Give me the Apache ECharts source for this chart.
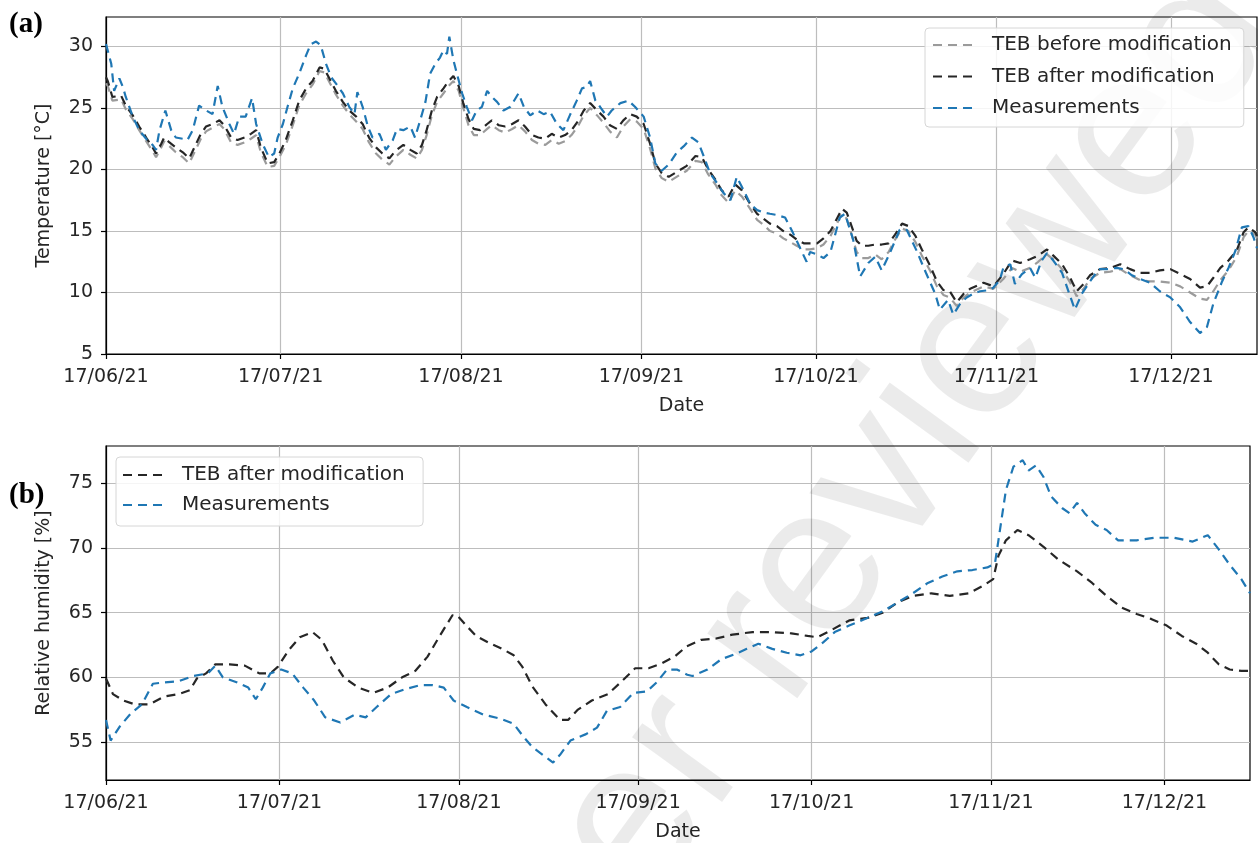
<!DOCTYPE html>
<html>
<head>
<meta charset="utf-8">
<script src="https://cdn.jsdelivr.net/npm/echarts@6/dist/echarts.min.js"></script>
<style>html,body{margin:0;padding:0;background:#fff}#c{width:1258px;height:843px}</style>
</head>
<body>
<div id="c"></div>
<script>
// x values are days since 17/06/21
const monthTickDays = [0, 30, 61, 92, 122, 153, 183];
const tickLabels = ['17/06/21', '17/07/21', '17/08/21', '17/09/21', '17/10/21', '17/11/21', '17/12/21'];
const tempTicks = [5, 10, 15, 20, 25, 30];
const rhTicks = [55, 60, 65, 70, 75];
const seriesNames = ['TEB before modification', 'TEB after modification', 'Measurements'];

// (a) Temperature — measurements
const tempMeasDays = [0,0.9,1.4,2.3,2.9,3.4,4.6,5.7,6.9,8.0,8.6,9.2,10.2,11.2,12.0,13.2,14.0,14.9,16.0,17.2,18.3,19.2,20.0,21.2,22.0,22.9,24.0,25.1,25.8,26.9,28.0,28.9,29.5,30.4,31.2,32.1,33.2,34.4,35.2,36.1,36.9,37.8,38.7,39.5,40.7,41.8,42.7,43.2,44.1,45.0,45.8,47.0,48.1,49.3,50.0,51.1,52.3,53.1,54.0,54.9,55.7,56.6,57.4,58.0,58.6,59.0,59.7,60.3,61.2,62.0,62.9,63.7,64.6,65.5,66.3,67.2,68.3,69.5,70.9,71.8,72.9,74.1,75.2,76.3,77.5,78.6,79.8,80.9,81.8,82.6,83.2,84.1,84.9,86.1,86.9,88.4,89.8,90.9,92.4,93.5,94.4,95.5,96.7,98.1,99.3,100.7,101.8,102.7,103.8,105.0,106.1,107.3,108.4,109.6,110.7,111.9,113.0,114.1,115.3,116.7,117.9,119.0,120.4,121.0,122.2,123.3,124.5,125.3,126.1,127.0,128.4,129.6,131.0,132.2,133.3,134.7,136.4,137.6,139.3,141.0,142.5,143.3,144.7,145.6,146.8,147.9,149.0,150.2,151.9,152.5,153.6,154.2,155.4,156.2,157.4,158.8,159.7,160.8,161.7,162.8,164.3,165.4,166.5,167.7,169.1,170.6,172.0,173.7,174.9,176.3,177.7,179.4,181.1,182.9,184.6,186.3,188.0,189.2,190.3,191.8,192.9,194.1,195.2,196.3,197.2,197.8];
const tempMeas = [30.2,28.6,26.4,27.4,26.7,25.9,24.3,23.2,22.5,22.0,21.6,23.2,24.8,23.2,22.6,22.5,22.4,23.2,25.2,24.8,24.5,26.8,25.1,23.7,22.9,24.3,24.3,25.8,23.7,22.1,21.0,21.3,22.6,23.7,25.1,26.6,27.8,29.3,30.2,30.4,30.1,28.6,27.5,27.0,26.2,25.1,24.5,26.3,25.1,23.5,22.6,22.9,21.6,22.4,23.3,23.2,23.5,22.6,24.0,25.5,27.8,28.6,29.1,29.7,29.4,30.8,28.9,27.8,26.2,25.1,24.0,24.8,25.1,26.4,25.9,25.5,24.8,25.1,26.2,25.1,24.4,24.8,24.5,24.7,23.7,23.2,24.5,25.6,26.6,26.7,27.2,25.6,25.1,24.3,24.8,25.4,25.6,25.1,24.3,22.6,20.5,19.9,20.4,21.4,21.9,22.6,22.2,21.1,19.7,18.9,18.1,17.5,19.4,18.3,17.2,16.7,16.5,16.4,16.3,16.1,15.0,13.9,12.5,13.3,13.1,12.8,13.3,14.7,16.1,16.4,14.3,11.3,12.4,12.9,11.8,13.2,15.1,15.1,13.4,11.5,9.9,8.6,9.4,8.2,9.1,9.6,9.9,10.1,10.2,10.4,11.0,12.0,12.3,10.7,11.5,12.0,11.2,12.6,13.2,12.6,11.6,10.1,8.6,9.9,10.9,11.9,11.9,12.0,11.9,11.4,11.1,10.8,10.1,9.6,8.8,7.6,6.7,7.2,9.1,10.9,12.0,13.4,15.3,15.4,14.5,13.6];

// (a) Temperature — TEB model (after / before modification share the same days)
const tempModelDays = [0,0.3,1.1,2.6,3.4,4.6,5.7,6.9,8.0,8.6,9.5,10.0,10.9,12.0,13.2,14.3,15.2,16.3,17.2,18.3,19.5,20.3,21.5,22.6,23.8,24.9,25.8,26.6,27.8,28.9,29.8,30.9,32.1,33.2,34.4,35.5,36.7,37.5,38.4,39.5,40.7,41.8,43.0,44.1,45.2,46.4,47.5,48.7,49.7,51.1,52.3,53.4,54.3,55.1,56.0,56.9,58.0,58.9,59.7,60.6,61.4,62.3,63.2,64.3,65.5,66.3,67.5,68.6,69.8,70.9,72.0,73.2,74.3,75.5,76.6,77.8,78.9,80.0,81.2,82.1,83.2,84.4,85.5,86.6,87.8,88.9,90.1,91.2,92.4,93.5,94.4,95.5,96.7,98.4,99.8,101.3,102.4,103.5,104.7,105.8,107.0,108.1,109.3,110.7,111.9,113.0,114.1,115.3,116.4,117.6,118.7,119.9,121.0,122.2,123.3,124.5,125.6,126.5,127.3,128.2,129.0,129.9,131.0,132.2,133.3,134.5,135.6,136.8,137.9,139.1,140.2,141.6,142.8,143.9,145.0,146.2,147.4,148.5,150.8,152.5,154.2,155.7,157.1,158.8,160.2,161.7,162.8,164.3,165.7,166.8,168.0,169.1,170.8,172.6,174.3,176.0,177.7,179.4,181.1,182.9,184.6,186.3,188.0,189.2,190.3,191.5,192.9,194.3,195.5,196.3,197.5,197.8];
const tempAfter = [27.5,27.2,25.9,26.0,25.2,24.4,23.5,22.6,21.8,21.3,22.1,22.6,22.2,21.8,21.4,20.9,21.8,22.9,23.5,23.7,24.0,23.6,22.6,22.4,22.6,22.9,23.2,21.8,20.5,20.6,21.3,22.4,24.0,25.6,26.6,27.2,28.3,28.2,27.4,26.4,25.5,24.8,24.3,23.7,22.6,21.8,21.3,20.9,21.5,22.0,21.6,21.3,22.0,23.2,24.8,25.9,26.6,27.2,27.6,26.8,25.4,24.1,23.3,23.2,23.7,24.0,23.6,23.5,23.7,24.0,23.5,22.8,22.6,22.5,22.9,22.6,22.8,23.2,24.0,24.8,25.4,24.8,24.3,23.6,23.3,24.0,24.5,24.3,23.7,22.1,20.5,19.7,19.4,19.9,20.3,21.1,21.0,20.0,19.2,18.3,17.8,18.8,18.3,17.2,16.4,16.0,15.6,15.4,15.0,14.7,14.3,14.0,14.0,14.0,14.4,15.0,16.0,16.8,16.5,15.3,14.2,13.8,13.8,13.9,13.9,14.0,14.7,15.6,15.4,14.6,13.5,12.2,10.9,10.2,10.1,9.2,9.9,10.3,10.8,10.5,11.5,12.6,12.4,12.7,13.0,13.5,13.0,12.3,11.2,10.1,10.7,11.4,11.9,12.0,12.3,11.9,11.6,11.6,11.8,11.9,11.5,11.1,10.4,10.5,11.2,12.0,12.6,13.4,14.9,15.3,14.9,14.6];
const tempBefore = [27.0,26.8,25.6,25.7,24.9,24.1,23.2,22.3,21.5,21.0,21.8,22.3,21.9,21.4,21.0,20.5,21.4,22.5,23.1,23.4,23.7,23.3,22.2,22.0,22.2,22.5,22.8,21.4,20.2,20.3,21.0,22.0,23.6,25.2,26.2,26.9,28.0,27.9,27.1,26.1,25.2,24.5,23.9,23.3,22.2,21.3,20.8,20.4,21.0,21.6,21.2,20.9,21.6,22.8,24.4,25.5,26.2,26.8,27.2,26.4,25.0,23.6,22.8,22.8,23.3,23.6,23.2,23.0,23.3,23.6,23.1,22.4,22.1,22.0,22.4,22.1,22.3,22.8,23.6,24.4,25.0,24.4,23.8,23.1,22.6,23.5,24.1,23.9,23.3,21.7,20.1,19.3,19.0,19.5,19.9,20.7,20.6,19.6,18.8,17.9,17.3,18.3,17.8,16.8,15.9,15.5,15.0,14.8,14.4,14.1,13.8,13.5,13.5,13.6,13.9,14.6,15.6,16.4,16.0,14.6,13.3,12.8,12.8,13.1,12.7,13.3,14.3,15.2,15.0,14.1,13.0,11.8,10.5,9.8,9.6,8.9,9.6,10.0,10.5,10.3,11.1,12.0,11.7,12.0,12.5,13.1,12.7,11.9,10.8,9.7,10.3,11.1,11.6,11.7,11.9,11.4,11.0,10.9,10.9,10.8,10.5,10.0,9.5,9.4,10.1,11.0,11.8,12.9,14.5,15.0,14.7,14.4];

// (b) Relative humidity
const rhAfterDays = [0,1.2,3.0,5.0,7.5,10.0,12.6,14.5,15.7,17.3,18.9,21.4,24.0,26.5,28.4,29.7,31.6,33.5,35.7,37.3,39.2,41.1,43.6,46.2,48.7,51.2,53.5,55.6,57.7,59.9,60.7,62.3,64.0,66.5,68.5,70.5,72.0,73.7,76.0,78.5,79.9,81.6,84.0,86.8,89.2,91.5,93.8,96.2,98.3,100.4,102.9,105.5,108.3,111.8,115.0,118.5,121.3,123.0,125.2,128.5,131.7,134.3,136.9,139.5,142.7,145.9,149.2,151.7,153.4,154.3,155.6,157.6,159.5,162.1,164.7,167.9,170.5,173.0,175.6,178.2,180.8,183.4,186.0,188.5,190.5,192.4,194.3,196.3,197.8];
const rhAfter = [59.9,58.7,58.2,57.9,57.9,58.5,58.7,59.0,59.9,60.3,61.0,61.0,60.9,60.3,60.3,60.8,62.1,63.1,63.5,62.9,61.3,60.0,59.2,58.8,59.2,60.0,60.5,61.6,63.2,64.8,64.8,64.0,63.2,62.6,62.2,61.7,60.8,59.3,57.9,56.7,56.7,57.5,58.2,58.7,59.7,60.7,60.7,61.1,61.6,62.4,62.9,63.0,63.3,63.5,63.5,63.4,63.2,63.1,63.6,64.4,64.6,65.0,65.8,66.3,66.5,66.3,66.5,67.1,67.6,69.4,70.6,71.4,71.0,70.1,69.1,68.2,67.3,66.3,65.4,64.9,64.5,64.0,63.2,62.6,61.9,61.0,60.6,60.5,60.5];
const rhMeasDays = [0,0.8,2.4,4.3,6.2,8.1,10.0,12.6,15.1,17.6,18.9,20.2,22.7,24.6,25.9,27.1,28.4,30.3,32.2,34.1,36.0,37.9,40.5,43.0,44.9,46.8,49.3,51.9,54.4,56.5,58.4,60.1,62.4,65.3,68.2,70.5,72.0,73.7,75.5,77.3,78.5,80.3,83.0,84.9,86.6,88.9,91.2,93.5,95.2,97.0,98.7,100.5,101.4,104.0,106.4,108.8,110.8,112.8,115.2,117.7,120.1,122.0,124.0,126.0,128.5,131.7,134.3,136.9,139.5,142.1,144.6,147.2,149.8,152.4,153.7,154.3,155.6,156.9,158.5,159.5,160.8,162.1,163.4,165.3,166.6,167.9,169.2,171.1,173.0,175.0,178.2,181.4,184.7,187.9,190.5,192.4,194.3,196.3,197.8];
const rhMeas = [56.7,55.1,56.2,57.2,57.9,59.5,59.6,59.7,60.1,60.3,60.9,60.0,59.6,59.2,58.3,59.2,60.3,60.6,60.3,59.2,58.2,56.9,56.5,57.1,56.9,57.7,58.7,59.1,59.4,59.4,59.2,58.2,57.7,57.1,56.8,56.4,55.5,54.6,54.0,53.4,54.0,55.1,55.6,56.1,57.4,57.7,58.8,58.9,59.6,60.6,60.6,60.2,60.1,60.6,61.4,61.8,62.2,62.6,62.2,61.9,61.7,62.0,62.7,63.5,64.0,64.6,65.1,65.8,66.5,67.3,67.8,68.2,68.3,68.5,68.8,70.6,74.5,76.3,76.8,76.0,76.4,75.5,74.0,73.1,72.7,73.5,72.7,71.8,71.4,70.6,70.6,70.8,70.8,70.5,71.0,69.9,68.7,67.6,66.5];

const pair = (xs, ys) => xs.map((x, i) => [x, ys[i]]);
const FONT = 'DejaVu Sans';
const TXT = '#262626';
const DASH = [9, 6];
const COLORS = { before: '#9b9b9b', after: '#262626', meas: '#1f77b4' };

function xAxis(gridIndex) {
  return {
    type: 'value', gridIndex, min: 0, max: 197.8,
    name: 'Date', nameLocation: 'middle', nameGap: 43,
    nameTextStyle: { fontSize: 19, color: TXT, fontFamily: FONT },
    axisLine: { show: true, lineStyle: { color: '#000', width: 1.2 } },
    axisTick: { show: true, inside: false, length: 5, customValues: monthTickDays, lineStyle: { color: '#000', width: 1.2 } },
    axisLabel: { customValues: monthTickDays, margin: 14, fontSize: 19, color: TXT, fontFamily: FONT,
      formatter: v => { const i = monthTickDays.indexOf(v); return i >= 0 ? tickLabels[i] : ''; } },
    splitLine: { show: true, lineStyle: { color: '#bdbdbd', width: 1.2 } }
  };
}
function yAxis(gridIndex, min, max, ticks, name) {
  return {
    type: 'value', gridIndex, min, max,
    name, nameLocation: 'middle', nameGap: 52, nameRotate: 90,
    nameTextStyle: { fontSize: 19, color: TXT, fontFamily: FONT },
    axisLine: { show: true, lineStyle: { color: '#000', width: 1.2 } },
    axisTick: { show: true, inside: false, length: 5, customValues: ticks, lineStyle: { color: '#000', width: 1.2 } },
    axisLabel: { customValues: ticks, margin: 13, fontSize: 19, color: TXT, fontFamily: FONT },
    splitLine: { show: true, lineStyle: { color: '#bdbdbd', width: 1.2 } }
  };
}
function line(name, data, color, xi, z) {
  return {
    type: 'line', name, data, xAxisIndex: xi, yAxisIndex: xi, z,
    showSymbol: false, symbol: 'none', smooth: false, animation: false,
    lineStyle: { color, width: 2.2, type: DASH }, itemStyle: { color }
  };
}
const legendBase = {
  orient: 'vertical', itemWidth: 41, itemHeight: 14,
  backgroundColor: 'rgba(255,255,255,0.85)', borderColor: '#d6d6d6', borderWidth: 1, borderRadius: 4,
  itemStyle: { opacity: 0 },
  textStyle: { fontSize: 20, color: TXT, fontFamily: FONT, padding: [0, 0, 0, 13] },
  selectedMode: false
};

const chart = echarts.init(document.getElementById('c'), null, { renderer: 'canvas' });
chart.setOption({
  animation: false,
  backgroundColor: '#fff',
  grid: [
    { left: 106, top: 17, width: 1151, height: 337, show: true, borderColor: '#000', borderWidth: 1.2, backgroundColor: 'transparent' },
    { left: 106, top: 446, width: 1144, height: 336, show: true, borderColor: '#000', borderWidth: 1.2, backgroundColor: 'transparent' }
  ],
  xAxis: [xAxis(0), xAxis(1)],
  yAxis: [
    yAxis(0, 5, 32.4, tempTicks, 'Temperature [°C]'),
    yAxis(1, 52.05, 77.9, rhTicks, 'Relative humidity [%]')
  ],
  legend: [
    Object.assign({}, legendBase, { left: 925, top: 28, itemGap: 11.5, padding: [7, 12, 9, 7],
      data: seriesNames.map(n => ({ name: n })) }),
    Object.assign({}, legendBase, { left: 116, top: 457, itemGap: 10, padding: [8, 12, 11, 6],
      data: [{ name: 'TEB after modification ' }, { name: 'Measurements ' }] })
  ],
  graphic: [
    { type: 'text', left: 9, top: 10, z: 100, style: { text: '(a)', font: 'bold 29px "Liberation Serif"', fill: '#000' } },
    { type: 'text', left: 9, top: 481, z: 100, style: { text: '(b)', font: 'bold 29px "Liberation Serif"', fill: '#000' } },
    { type: 'text', x: 1236, y: -4, rotation: 54 * Math.PI / 180, z: 1, silent: true,
      style: { text: 'not peer reviewed', font: '210px "Liberation Sans"', fill: 'rgba(0,0,0,0.08)', align: 'right', verticalAlign: 'middle' } }
  ],
  series: [
    line(seriesNames[0], pair(tempModelDays, tempBefore), COLORS.before, 0, 2),
    line(seriesNames[1], pair(tempModelDays, tempAfter), COLORS.after, 0, 3),
    line(seriesNames[2], pair(tempMeasDays, tempMeas), COLORS.meas, 0, 4),
    line('TEB after modification ', pair(rhAfterDays, rhAfter), COLORS.after, 1, 3),
    line('Measurements ', pair(rhMeasDays, rhMeas), COLORS.meas, 1, 4)
  ]
});
</script>
</body>
</html>
